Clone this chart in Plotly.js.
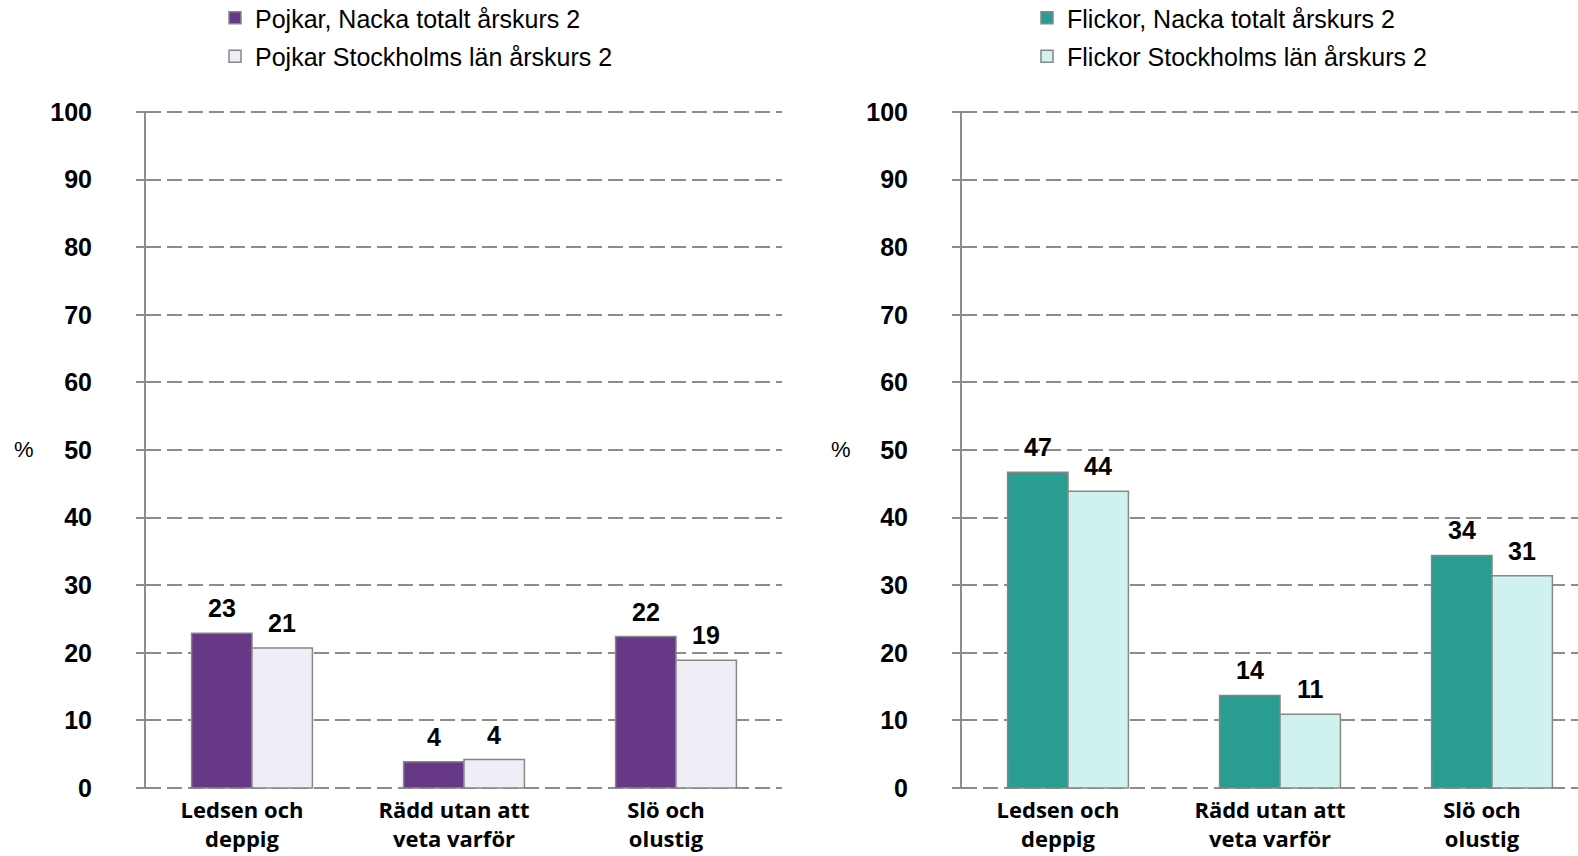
<!DOCTYPE html>
<html>
<head>
<meta charset="utf-8">
<script src="https://cdn.plot.ly/plotly-3.0.1.min.js"></script>
<style>html,body{margin:0;padding:0;background:#fff;}#chart{width:1578px;height:856px;}</style>
</head>
<body>
<div id="chart"></div>
<script>
const categories = ['Ledsen och<br>deppig', 'Rädd utan att<br>veta varför', 'Slö och<br>olustig'];
const boysNackaName = 'Pojkar, Nacka totalt årskurs 2';
const boysStockholmName = 'Pojkar Stockholms län årskurs 2';
const girlsNackaName = 'Flickor, Nacka totalt årskurs 2';
const girlsStockholmName = 'Flickor Stockholms län årskurs 2';
const boysNacka = [22.9, 3.9, 22.4];
const boysStockholm = [20.7, 4.2, 18.9];
const girlsNacka = [46.7, 13.7, 34.4];
const girlsStockholm = [43.9, 10.9, 31.4];
const yTicks = [0, 10, 20, 30, 40, 50, 60, 70, 80, 90, 100];

const W = 1578, H = 856;
const lineGray = '#878787';
const gridGray = '#8c8c8c';
const bargap = 0.43;

function barTrace(name, y, fill, xa, ya, leg, grp) {
  return {
    type: 'bar', name: name, x: categories, y: y,
    xaxis: xa, yaxis: ya, legend: leg, legendgroup: grp,
    marker: {color: fill, line: {color: lineGray, width: 1.5}},
    hoverinfo: 'skip'
  };
}

const data = [
  barTrace(boysNackaName, boysNacka, '#673886', 'x', 'y', 'legend', 'a'),
  barTrace(boysStockholmName, boysStockholm, '#efedf5', 'x', 'y', 'legend', 'b'),
  barTrace(girlsNackaName, girlsNacka, '#2a9d91', 'x2', 'y2', 'legend2', 'c'),
  barTrace(girlsStockholmName, girlsStockholm, '#cff2ef', 'x2', 'y2', 'legend2', 'd')
];

const catWidth = 212;
const barW = catWidth * (1 - bargap) / 2;
const annotations = [];
function addLabels(vals, xa, ya, shift) {
  vals.forEach((v, i) => {
    annotations.push({
      x: i, y: v, xref: xa, yref: ya, xshift: shift, yshift: 25,
      text: String(Math.round(v)), showarrow: false, yanchor: 'middle',
      font: {family: 'Liberation Sans, Arial', size: 25, color: '#000', weight: 'bold'}
    });
  });
}
addLabels(boysNacka, 'x', 'y', -barW / 2);
addLabels(boysStockholm, 'x', 'y', barW / 2);
addLabels(girlsNacka, 'x2', 'y2', -barW / 2);
addLabels(girlsStockholm, 'x2', 'y2', barW / 2);
annotations.push({x: 24 / W, y: 50, xref: 'paper', yref: 'y', xanchor: 'center', text: '%', showarrow: false,
  font: {family: 'Liberation Sans, Arial', size: 22, color: '#000'}});
annotations.push({x: 841 / W, y: 50, xref: 'paper', yref: 'y2', xanchor: 'center', text: '%', showarrow: false,
  font: {family: 'Liberation Sans, Arial', size: 22, color: '#000'}});

const pxPerUnit = 676 / 100;
const pad = 0.2;
const yAxisBase = {
  range: [-pad, 100 + pad], tickvals: yTicks, ticktext: yTicks.map(String),
  showgrid: true, gridcolor: gridGray, gridwidth: 2, griddash: '15px,6px',
  showline: true, linecolor: gridGray, linewidth: 2,
  ticks: 'outside', ticklen: 8, tickcolor: gridGray, tickwidth: 2,
  zeroline: false, ticklabelstandoff: 39,
  tickfont: {family: 'Liberation Sans, Arial', size: 25, color: '#000', weight: 'bold'},
  domain: [(H - 788 - pad * pxPerUnit) / H, (H - 112 + pad * pxPerUnit) / H], fixedrange: true
};
const xAxisBase = {
  type: 'category', showgrid: false, showline: false, ticks: '', zeroline: false,
  ticklabelstandoff: 6, ticklabelshift: -10,
  tickfont: {family: 'Open Sans, sans-serif', size: 22, color: '#000', weight: 'bold'},
  fixedrange: true
};

const layout = {
  width: W, height: H,
  margin: {l: 0, r: 0, t: 0, b: 0, autoexpand: false},
  paper_bgcolor: '#fff', plot_bgcolor: '#fff',
  barmode: 'group', bargap: bargap, bargroupgap: 0,
  showlegend: true,
  xaxis: Object.assign({}, xAxisBase, {domain: [146 / W, 782 / W], range: [-0.5, 2.5], anchor: 'y'}),
  yaxis: Object.assign({}, yAxisBase, {anchor: 'x'}),
  xaxis2: Object.assign({}, xAxisBase, {domain: [962 / W, 1], range: [-0.5, 2.5 - (962 + 636 - W) / catWidth], anchor: 'y2'}),
  yaxis2: Object.assign({}, yAxisBase, {anchor: 'x2'}),
  legend: {x: 215 / W, y: 1 + 5 / H, xanchor: 'left', yanchor: 'top', bgcolor: 'rgba(0,0,0,0)',
    font: {family: 'Liberation Sans, Arial', size: 25, color: '#000'}, tracegroupgap: 3, traceorder: 'grouped'},
  legend2: {x: 1027 / W, y: 1 + 5 / H, xanchor: 'left', yanchor: 'top', bgcolor: 'rgba(0,0,0,0)',
    font: {family: 'Liberation Sans, Arial', size: 25, color: '#000'}, tracegroupgap: 3, traceorder: 'grouped'},
  annotations: annotations
};

Plotly.newPlot('chart', data, layout, {displayModeBar: false, staticPlot: true});
</script>
</body>
</html>
